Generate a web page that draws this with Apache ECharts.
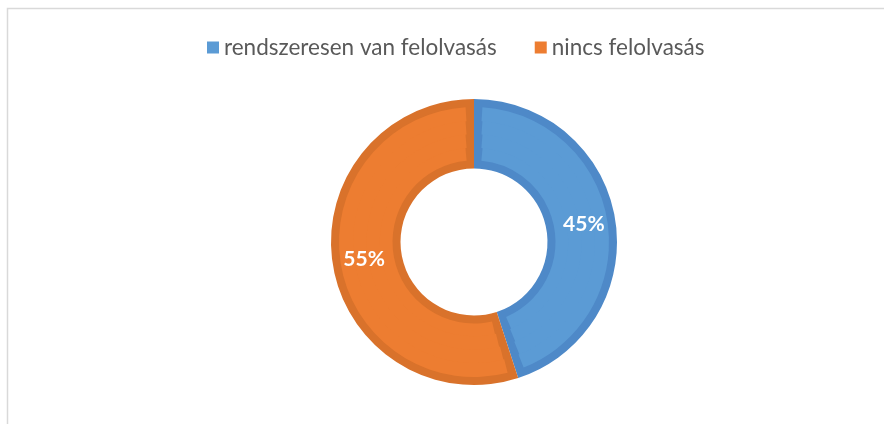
<!DOCTYPE html>
<html>
<head>
<meta charset="utf-8">
<script src="https://cdn.jsdelivr.net/npm/echarts@6/dist/echarts.min.js"></script>
<style>
  html, body { margin: 0; padding: 0; background: #ffffff; }
  #chart { width: 884px; height: 424px; }
</style>
</head>
<body>
<div id="chart"></div>
<script>
// Answers to the question: is there regular reading aloud?
const categories = ['rendszeresen van felolvasás', 'nincs felolvasás'];
const shares = [45, 55];

// Slice fill and the darker outline drawn around each slice
const fillColors = ['#5B9BD5', '#ED7D31'];
const edgeColors = ['#4E89C8', '#D9722B'];

const chart = echarts.init(document.getElementById('chart'), null, { renderer: 'canvas' });

const center = [474, 242];
const outerR = 143;
const innerR = 73.5;
const outline = 8;                 // outline thickness in px
const faceInner = innerR + outline;
const faceOuter = outerR - outline;
const bandCount = 4;               // face split into rings so the gap between slices stays ~constant width

function sliceData(colors) {
  return categories.map((name, i) => ({
    name: name,
    value: shares[i],
    itemStyle: { color: colors[i] }
  }));
}

const series = [];

// Lighter faces, inset from the outline on every side
const step = (faceOuter - faceInner) / bandCount;
for (let b = 0; b < bandCount; b++) {
  const r0 = faceInner + b * step;
  const r1 = r0 + step;
  const mid = (r0 + r1) / 2;
  series.push({
    type: 'pie',
    z: 3,
    center: center,
    radius: [b === 0 ? r0 : r0 - 0.6, b === bandCount - 1 ? r1 : r1 + 0.6],
    startAngle: 90,
    padAngle: (2 * outline / mid) * 180 / Math.PI,
    silent: true,
    label: { show: false },
    labelLine: { show: false },
    data: sliceData(fillColors)
  });
}

// Darker full ring forming the slice outlines
series.push({
  type: 'pie',
  z: 2,
  center: center,
  radius: [innerR, outerR],
  startAngle: 90,
  silent: true,
  label: { show: false },
  labelLine: { show: false },
  data: sliceData(edgeColors)
});

// Value labels, centred on the face ring
series.push({
  type: 'pie',
  z: 5,
  center: center,
  radius: [faceInner, faceOuter],
  startAngle: 90,
  silent: true,
  labelLine: { show: false },
  label: {
    show: true,
    position: 'inside',
    formatter: '{c}%',
    color: '#ffffff',
    fontFamily: 'Lato',
    fontWeight: 'bold',
    fontSize: 21,
    padding: [4, 0, 0, 0]
  },
  data: sliceData(['rgba(0,0,0,0)', 'rgba(0,0,0,0)'])
});

const option = {
  animation: false,
  backgroundColor: '#ffffff',
  graphic: [{
    type: 'rect',
    silent: true,
    z: -10,
    shape: { x: 7.5, y: 8.5, width: 900, height: 450 },
    style: { fill: 'none', stroke: '#d9d9d9', lineWidth: 1.5 }
  }],
  legend: {
    top: 31,
    left: 202,
    icon: 'rect',
    itemWidth: 12,
    itemHeight: 12,
    itemGap: 38,
    selectedMode: false,
    textStyle: { fontFamily: 'Lato', fontSize: 22.5, color: '#595959' },
    data: categories
  },
  series: series
};

chart.setOption(option);
</script>
</body>
</html>
